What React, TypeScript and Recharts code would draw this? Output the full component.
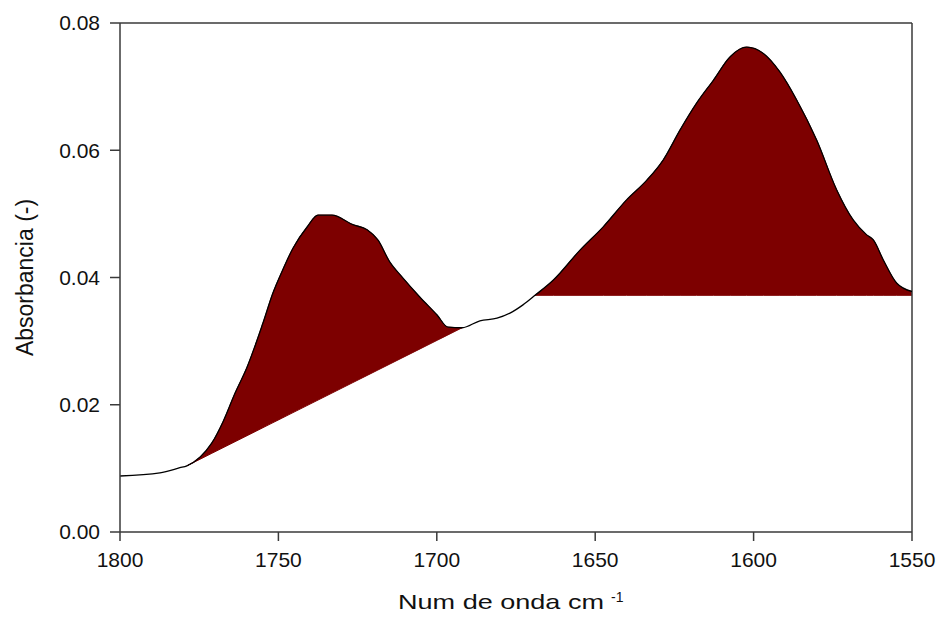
import { Area, ComposedChart, Label, Line, ReferenceLine, XAxis, YAxis } from "recharts";

// FTIR spectrum, wavenumber (cm-1) against absorbance
const wavenumbers = [
  1800, 1787.4, 1781.1, 1778.9, 1774.7, 1771.0, 1767.5, 1763.7, 1759.9, 1754.9,
  1751.7, 1748.9, 1745.4, 1741.0, 1737.5, 1733.1, 1726.5, 1722.0, 1718.6, 1714.8,
  1711.0, 1705.3, 1699.9, 1696.5, 1692.0, 1686.4, 1681.0, 1676.9, 1672.8, 1669.0,
  1663.2, 1654.8, 1647.4, 1640.1, 1633.7, 1628.5, 1623.2, 1618.0, 1612.7, 1607.4,
  1602.2, 1596.9, 1591.7, 1586.4, 1580.1, 1573.8, 1568.5, 1564.3, 1562.2, 1559.1,
  1554.8, 1550,
];
const absorbance = [
  0.0088, 0.0093, 0.0101, 0.0104, 0.0118, 0.014, 0.0173, 0.0218, 0.0259, 0.0328,
  0.0376, 0.0409, 0.0446, 0.0479, 0.0498, 0.0498, 0.0483, 0.0475, 0.0459, 0.0424,
  0.0401, 0.0369, 0.0341, 0.0322, 0.0321, 0.0332, 0.0336, 0.0344, 0.0357, 0.0372,
  0.0396, 0.0443, 0.048, 0.0522, 0.0553, 0.0585, 0.0632, 0.0674, 0.071, 0.0747,
  0.0762, 0.0752, 0.0723, 0.0679, 0.0616, 0.0538, 0.049, 0.0467, 0.0459, 0.0428,
  0.0391, 0.0378,
];

// integration limits and baseline values of the two bands
const band1Limits = [1778.9, 1692.0];
const band1Baseline = [0.0104, 0.0321];
const band2Limits = [1669.0, 1550];
const band2Baseline = 0.0372;

const xTicks = [1800, 1750, 1700, 1650, 1600, 1550];
const yTicks = [0, 0.02, 0.04, 0.06, 0.08];

const rows = wavenumbers.map((w, i) => {
  const a = absorbance[i];
  const row: any = { w, a };
  if (w <= band1Limits[0] && w >= band1Limits[1]) {
    // straight baseline between the two limits
    const t = (band1Limits[0] - w) / (band1Limits[0] - band1Limits[1]);
    row.band1 = [band1Baseline[0] + t * (band1Baseline[1] - band1Baseline[0]), a];
  }
  if (w <= band2Limits[0] && w >= band2Limits[1]) {
    row.band2 = [band2Baseline, a];
  }
  return row;
});

const FONT = "'Liberation Sans', Arial, sans-serif";
const AXIS = "#3a3a3a";
const FILL = "#7d0000";

const XTitle = (props: any) => {
  const { x, y, width } = props.viewBox;
  const cx = x + width / 2;
  return (
    <g fontFamily={FONT} fill="#111">
      <text
        x={cx - 15}
        y={y + 77}
        textAnchor="middle"
        fontSize={21}
        textLength={206}
        lengthAdjust="spacingAndGlyphs"
      >
        Num de onda cm
      </text>
      <text x={cx + 95} y={y + 70} fontSize={14}>
        -1
      </text>
    </g>
  );
};

const YTitle = (props: any) => {
  const { y, height } = props.viewBox;
  const cx = 25;
  const cy = y + height / 2;
  return (
    <text
      x={cx}
      y={cy}
      transform={`rotate(-90, ${cx}, ${cy})`}
      textAnchor="middle"
      dominantBaseline="central"
      fontSize={23}
      fontFamily={FONT}
      fill="#111"
    >
      Absorbancia (-)
    </text>
  );
};

export default function App() {
  const tick = { fill: "#111", fontSize: 21, fontFamily: FONT };
  return (
    <div style={{ position: "absolute", left: 0, top: 0, background: "#fff" }}>
      <ComposedChart
        width={937}
        height={617}
        data={rows}
        margin={{ top: 23, right: 25, bottom: 0, left: 0 }}
      >
        <XAxis
          dataKey="w"
          type="number"
          domain={[1550, 1800]}
          reversed
          ticks={xTicks}
          tick={tick}
          tickSize={9}
          tickMargin={11}
          height={85}
          stroke={AXIS}
          strokeWidth={1.5}
          allowDataOverflow
        >
          <Label content={XTitle} />
        </XAxis>
        <YAxis
          type="number"
          domain={[0, 0.08]}
          ticks={yTicks}
          tickFormatter={(v: number) => v.toFixed(2)}
          tick={tick}
          tickSize={10}
          tickMargin={10}
          width={120}
          stroke={AXIS}
          strokeWidth={1.5}
          allowDataOverflow
        >
          <Label content={YTitle} />
        </YAxis>
        <ReferenceLine y={0.08} stroke={AXIS} strokeWidth={1.5} />
        <ReferenceLine x={1550} stroke={AXIS} strokeWidth={1.5} />
        <Area
          dataKey="band1"
          type="monotone"
          fill={FILL}
          fillOpacity={1}
          stroke={FILL}
          strokeWidth={1}
          isAnimationActive={false}
        />
        <Area
          dataKey="band2"
          type="monotone"
          fill={FILL}
          fillOpacity={1}
          stroke={FILL}
          strokeWidth={1}
          isAnimationActive={false}
        />
        <Line
          dataKey="a"
          type="monotone"
          stroke="#000"
          strokeWidth={1.3}
          dot={false}
          activeDot={false}
          isAnimationActive={false}
        />
      </ComposedChart>
    </div>
  );
}
